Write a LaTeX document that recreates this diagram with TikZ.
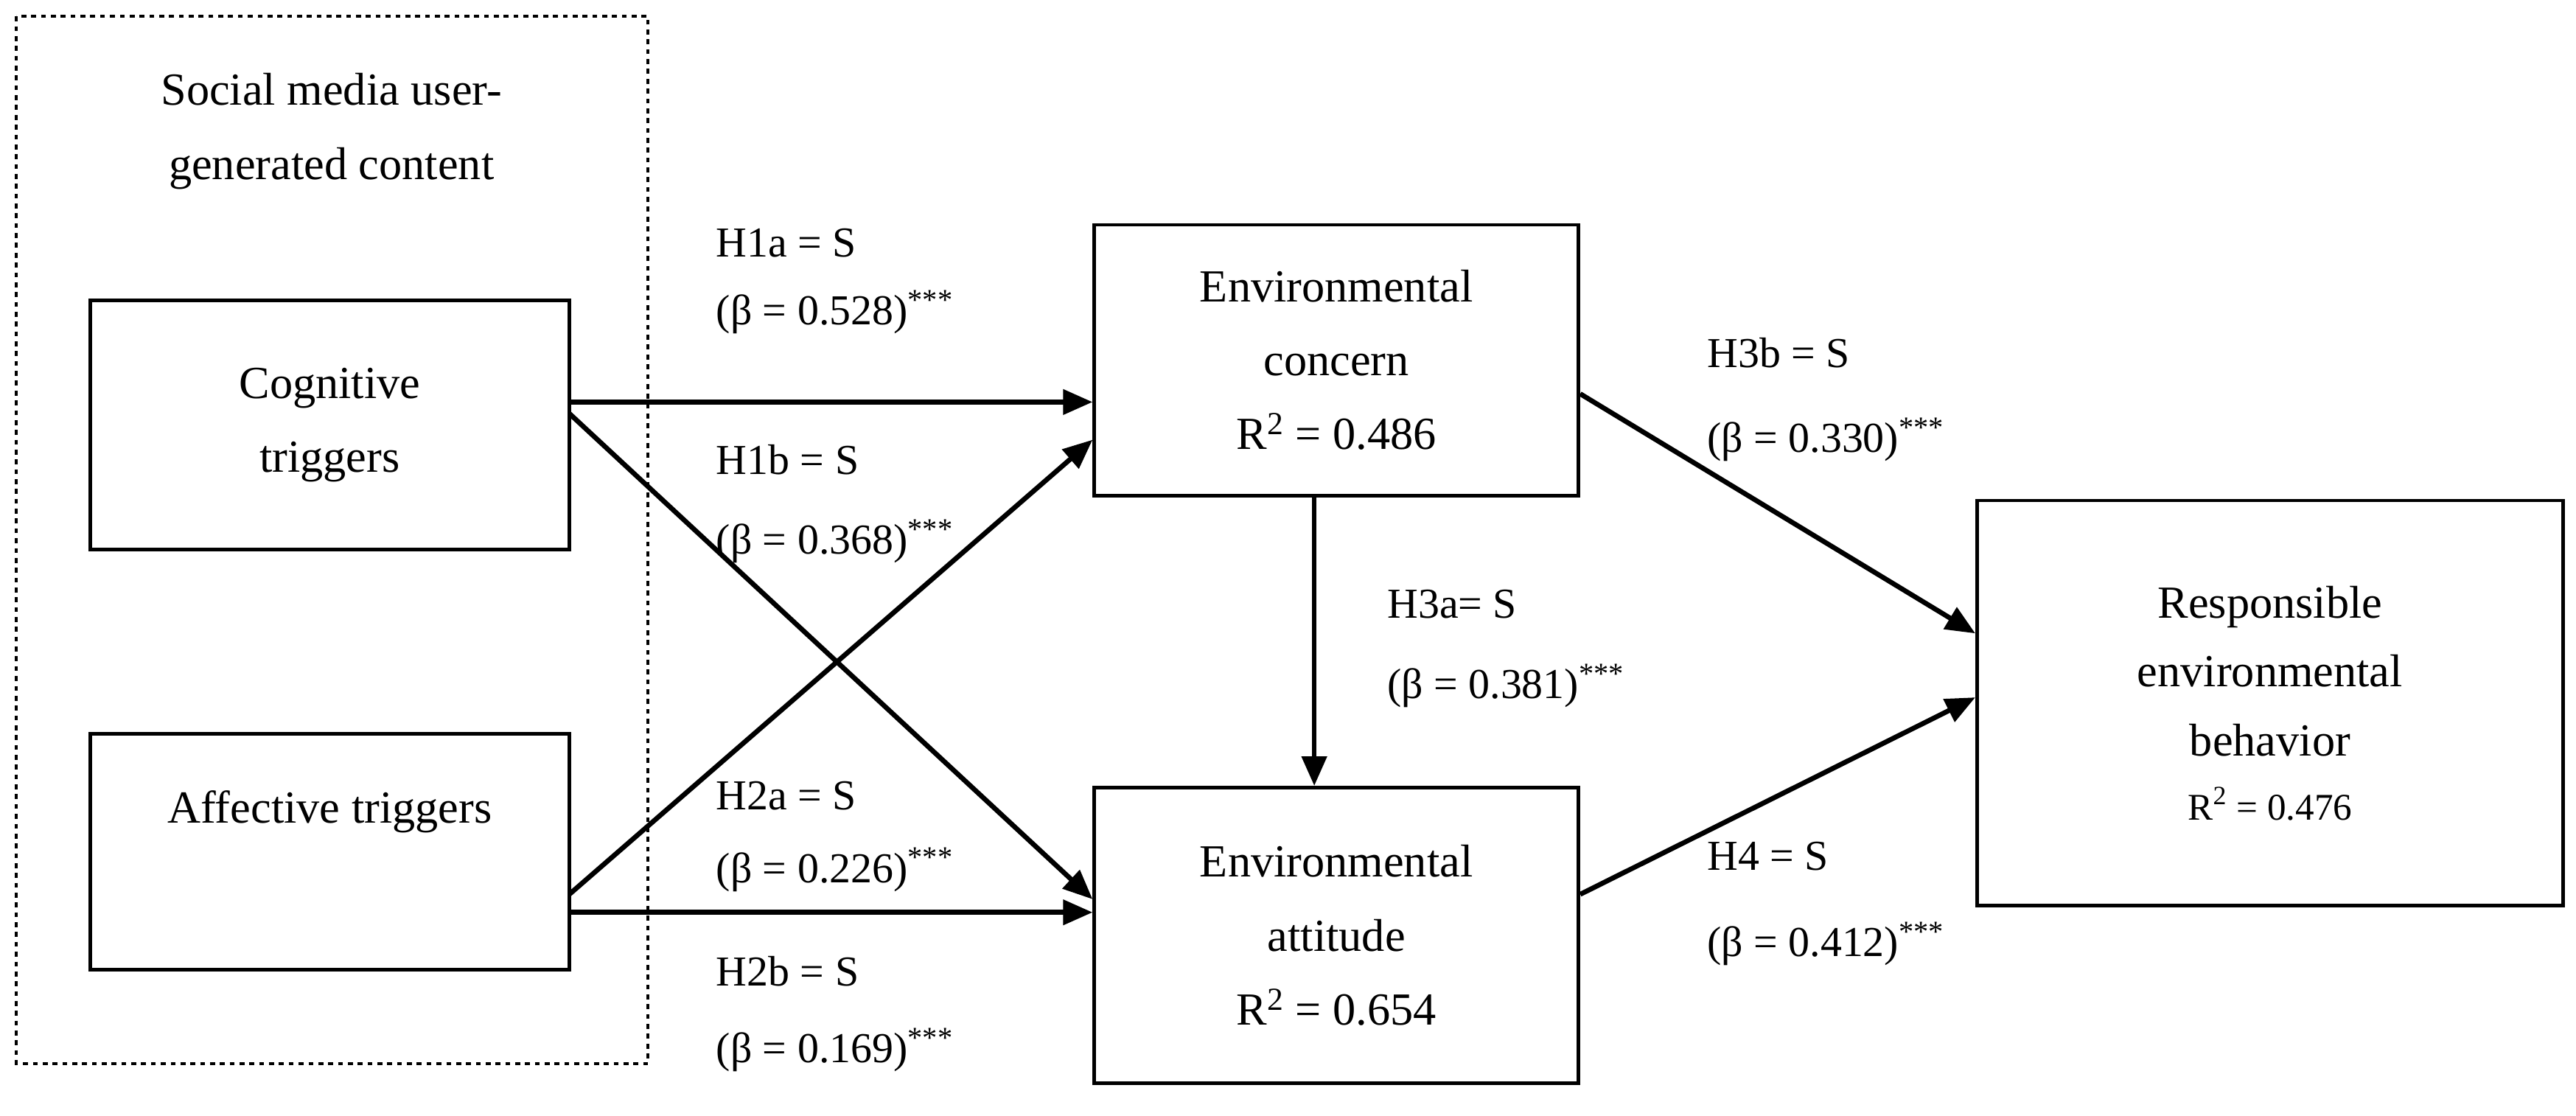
\documentclass[tikz,border=0pt]{standalone}
\usepackage{fontspec}
\setmainfont{Liberation Serif}
\usetikzlibrary{arrows.meta}
\begin{document}
\begin{tikzpicture}[x=1pt,y=-1pt,
  box/.style={draw,line width=2.2pt,align=center,inner sep=0},
  arr/.style={line width=3pt,-{Triangle[length=18pt,width=15pt]}},
  lab/.style={anchor=west,font=\fontsize{26}{30}\selectfont},
  every node/.style={font=\fontsize{28}{45}\selectfont}]
\useasboundingbox (0,0) rectangle (1570,680);
\draw[dashed,line width=1.8pt] (10,10) rectangle (395,648);
\node[align=center] (title) at (202,80) {Social media user-\\generated content};
\node[box,minimum width=292pt,minimum height=152pt] (cog) at (201,259) {Cognitive\\triggers};
\node[box,minimum width=292pt,minimum height=144pt] (aff) at (201,519) {Affective triggers\\[10pt]};
\node[box,minimum width=295pt,minimum height=165pt] (con) at (814.5,219.5) {Environmental\\concern\\R\textsuperscript{2} = 0.486};
\node[box,minimum width=295pt,minimum height=180pt] (att) at (814.5,570) {Environmental\\attitude\\R\textsuperscript{2} = 0.654};
\node[box,minimum width=357pt,minimum height=247pt] (res) at (1383.5,428.5) {Responsible\\[-3pt]environmental\\[-3pt]behavior\\[-6pt]{\fontsize{23}{28}\selectfont R\textsuperscript{2} = 0.476}};
\draw[arr] (cog.east |- 0,245) -- (con.west |- 0,245);
\draw[arr] (347,252) -- (att.west |- 0,548);
\draw[arr] (347,545) -- (con.west |- 0,268);
\draw[arr] (aff.east |- 0,556) -- (att.west |- 0,556);
\draw[arr] (con.south -| 801,0) -- (att.north -| 801,0);
\draw[arr] (con.east |- 0,240) -- (res.west |- 0,386);
\draw[arr] (att.east |- 0,545) -- (res.west |- 0,425);
\node[lab] (l1) at (433,148) {H1a = S};
\node[lab] (l2) at (433,190) {(β = 0.528)\textsuperscript{***}};
\node[lab] (l3) at (433,280) {H1b = S};
\node[lab] (l4) at (433,330) {(β = 0.368)\textsuperscript{***}};
\node[lab] (l5) at (433,485) {H2a = S};
\node[lab] (l6) at (433,530) {(β = 0.226)\textsuperscript{***}};
\node[lab] (l7) at (433,592) {H2b = S};
\node[lab] (l8) at (433,640) {(β = 0.169)\textsuperscript{***}};
\node[lab] (l9) at (842,368) {H3a= S};
\node[lab] (l10) at (842,418) {(β = 0.381)\textsuperscript{***}};
\node[lab] (l11) at (1037,215) {H3b = S};
\node[lab] (l12) at (1037,268) {(β = 0.330)\textsuperscript{***}};
\node[lab] (l13) at (1037,522) {H4 = S};
\node[lab] (l14) at (1037,575) {(β = 0.412)\textsuperscript{***}};
\end{tikzpicture}
\end{document}
